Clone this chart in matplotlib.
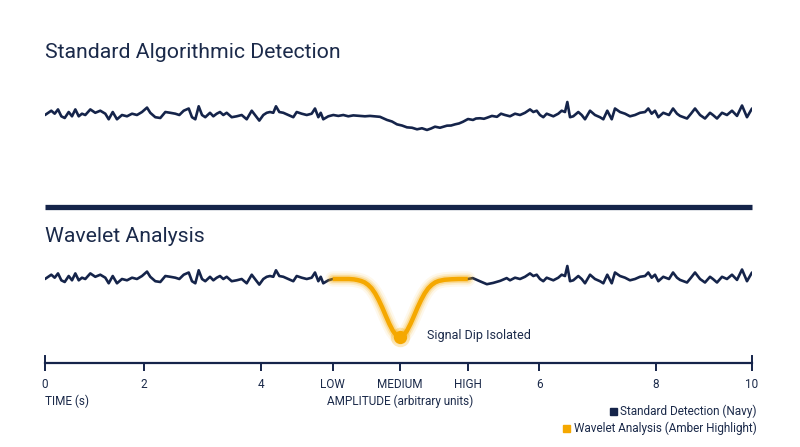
import matplotlib
matplotlib.use("Agg")
import matplotlib.pyplot as plt
from matplotlib.lines import Line2D
from matplotlib.patches import Rectangle

plt.rcParams['font.family'] = ['Roboto', 'DejaVu Sans']

NAVY = '#15244a'
TEXT = '#1b2a4a'
AMBER = '#f5a800'

W, H = 800, 447
PX_PER_UNIT = 1.3

# signal (time in s, amplitude in arbitrary units)
top_t = [0.000, 0.089, 0.137, 0.184, 0.231, 0.279, 0.335, 0.382, 0.429, 0.477,
         0.523, 0.570, 0.641, 0.711, 0.782, 0.853, 0.901, 0.958, 1.018, 1.089,
         1.160, 1.231, 1.301, 1.372, 1.443, 1.489, 1.560, 1.631, 1.702, 1.772,
         1.843, 1.900, 1.962, 2.033, 2.079, 2.126, 2.174, 2.221, 2.267, 2.334,
         2.381, 2.429, 2.475, 2.522, 2.570, 2.641, 2.711, 2.782, 2.853, 2.924,
         2.970, 3.031, 3.088, 3.136, 3.182, 3.229, 3.267, 3.314, 3.371, 3.441,
         3.512, 3.560, 3.631, 3.702, 3.772, 3.819, 3.866, 3.900, 3.936, 4.007,
         4.078, 4.149, 4.219, 4.290, 4.361, 4.455, 4.526, 4.597, 4.738, 4.837,
         4.908, 4.979, 5.050, 5.120, 5.191, 5.262, 5.332, 5.403, 5.460, 5.516,
         5.587, 5.686, 5.743, 5.799, 5.856, 5.912, 5.983, 6.054, 6.096, 6.153,
         6.209, 6.252, 6.322, 6.393, 6.450, 6.506, 6.577, 6.648, 6.719, 6.789,
         6.860, 6.907, 6.955, 7.001, 7.048, 7.096, 7.143, 7.190, 7.260, 7.308,
         7.355, 7.388, 7.426, 7.472, 7.543, 7.591, 7.638, 7.709, 7.779, 7.850,
         7.897, 7.953, 8.016, 8.062, 8.133, 8.204, 8.274, 8.345, 8.416, 8.487,
         8.533, 8.581, 8.628, 8.675, 8.745, 8.826, 8.883, 8.939, 8.982, 9.081,
         9.137, 9.194, 9.265, 9.335, 9.406, 9.448, 9.505, 9.576, 9.646, 9.717,
         9.788, 9.859, 9.929, 10.000]
top_amp = [0.0, 3.3, 1.0, 4.3, -1.0, -2.3, 2.3, -1.0, 4.3, -1.0,
           1.0, 0.0, 4.3, 1.7, 3.3, 1.0, -3.3, 2.3, -3.3, 0.0,
           -1.0, 1.0, 0.0, 2.3, 5.7, 1.7, -1.7, -2.3, 2.3, 1.7,
           1.0, 0.0, 3.3, 5.0, -1.7, -3.3, 6.7, 0.0, -1.7, 1.7,
           -1.0, 1.0, 2.3, 0.0, 1.7, -1.7, -1.0, 0.0, -3.3, 3.3,
           0.0, -4.3, 0.0, 1.7, 2.3, 1.7, 6.7, 2.3, 1.7, 0.0,
           -1.7, 2.3, 1.0, 0.0, 1.0, 5.0, -1.7, 1.7, -3.3, -1.0,
           0.0, -0.7, 0.0, -1.0, -0.3, -0.7, -1.0, -0.7, -1.4, -3.8,
           -5.0, -7.2, -8.1, -9.5, -9.8, -11.0, -10.2, -11.5, -10.4, -9.0,
           -9.8, -8.2, -8.1, -7.2, -6.5, -5.2, -3.1, -3.8, -2.7, -2.5,
           -2.9, -2.1, -0.7, -1.4, 1.0, 0.0, -1.0, 1.0, 0.0, 1.7,
           4.3, 2.3, 3.3, 0.0, -1.7, 1.0, 0.0, -1.0, 1.0, 3.3,
           2.3, 10.0, -1.7, -1.0, 2.3, 0.0, -3.3, 3.3, 0.0, -1.7,
           -3.3, 3.3, -3.3, 5.0, 2.3, 1.0, -1.0, 0.0, 1.7, 2.3,
           5.0, 1.0, 3.3, -1.7, 1.7, 0.0, 5.0, 1.0, -0.7, -2.7,
           1.0, 5.0, 0.0, -2.7, 1.7, 0.0, -2.7, 1.7, 0.0, 3.3,
           -0.7, 7.3, -1.7, 5.0]
assert len(top_t) == len(top_amp)

# bottom panel: noise right after the isolated window
after_t = [5.98, 6.05, 6.15, 6.25, 6.34, 6.44, 6.53]
after_amp = [0.0, 0.7, -1.7, -4.0, -3.0, -1.4, 0.7]

# isolated dip (wavelet window)
amber_t = [4.07, 4.20, 4.30, 4.37, 4.42, 4.47, 4.52, 4.57, 4.62, 4.67,
           4.72, 4.77, 4.82, 4.87, 4.92, 4.97, 5.02, 5.07, 5.12, 5.17,
           5.22, 5.27, 5.32, 5.37, 5.42, 5.47, 5.52, 5.57, 5.65, 5.75,
           5.85, 5.98]
amber_amp = [0.0, 0.0, 0.0, -0.3, -0.8, -1.5, -2.6, -4.5, -7.2, -11.1,
             -16.1, -21.9, -28.3, -34.5, -39.8, -43.4, -44.6, -43.4, -39.8, -34.5,
             -28.3, -21.9, -16.1, -11.1, -7.2, -4.5, -2.6, -1.5, -0.6, -0.2,
             0.0, 0.0]
dip_t, dip_amp = 5.02, -44.6

tick_pos = [0.0, 1.40, 3.05, 4.07, 5.02, 5.98, 6.99, 8.64, 10.0]
tick_labels = ['0', '2', '4', 'LOW', 'MEDIUM', 'HIGH', '6', '8', '10']

legend_labels = ['Standard Detection (Navy)', 'Wavelet Analysis (Amber Highlight)']
legend_colors = [NAVY, AMBER]


def fx(px):
    return px / W


def fy(py):
    return 1 - py / H


def panel(top_px, bot_px, base_px):
    ax = fig.add_axes([fx(45), fy(bot_px), fx(752) - fx(45), (bot_px - top_px) / H])
    ax.set_xlim(0, 10)
    ax.set_ylim((base_px - bot_px) / PX_PER_UNIT, (base_px - top_px) / PX_PER_UNIT)
    ax.axis('off')
    return ax


fig = plt.figure(figsize=(W / 100, H / 100), dpi=100)
fig.patch.set_facecolor('white')

# titles and divider
fig.text(fx(45), fy(53), 'Standard Algorithmic Detection', fontsize=15.3,
         color=TEXT, va='center', ha='left')
fig.text(fx(45), fy(236), 'Wavelet Analysis', fontsize=15.3,
         color=TEXT, va='center', ha='left')
fig.add_artist(Line2D([fx(45), fx(752)], [fy(207), fy(207)], color=NAVY,
                      lw=3.8, solid_capstyle='butt', transform=fig.transFigure))

# top panel
ax1 = panel(85, 145, 115)
ax1.plot(top_t, top_amp, color=NAVY, lw=1.9, solid_joinstyle='round',
         solid_capstyle='round')

# bottom panel
ax2 = panel(249, 349, 279)
left_t = [t for t in top_t if t < 4.07] + [amber_t[0]]
left_amp = [a for t, a in zip(top_t, top_amp) if t < 4.07] + [amber_amp[0]]
right_t = after_t + [t for t in top_t if t > 6.55]
right_amp = after_amp + [a for t, a in zip(top_t, top_amp) if t > 6.55]
ax2.plot(left_t, left_amp, color=NAVY, lw=1.9, solid_joinstyle='round',
         solid_capstyle='round')
ax2.plot(right_t, right_amp, color=NAVY, lw=1.9, solid_joinstyle='round',
         solid_capstyle='round')

for lw, a in [(11, 0.08), (8, 0.14), (5.5, 0.25)]:
    ax2.plot(amber_t, amber_amp, color=AMBER, lw=lw, alpha=a,
             solid_capstyle='round', clip_on=False)
ax2.plot(amber_t, amber_amp, color=AMBER, lw=3.2, solid_capstyle='butt',
         solid_joinstyle='round', clip_on=False)
ax2.plot([dip_t], [dip_amp], 'o', color=AMBER, ms=14, alpha=0.25, mec='none', clip_on=False)
ax2.plot([dip_t], [dip_amp], 'o', color=AMBER, ms=9.5, mec='none', clip_on=False)
ax2.text(5.41, dip_amp + 1.2, 'Signal Dip Isolated', fontsize=9, color=TEXT,
         ha='left', va='center')

# time / amplitude scale
ax3 = fig.add_axes([fx(45), fy(363), fx(752) - fx(45), 7 / H])
ax3.set_xlim(0, 10)
ax3.set_ylim(0, 1)
for s in ['top', 'left', 'right']:
    ax3.spines[s].set_visible(False)
ax3.spines['bottom'].set_color(NAVY)
ax3.spines['bottom'].set_linewidth(1.6)
ax3.patch.set_alpha(0)
ax3.set_yticks([])
ax3.set_xticks(tick_pos, tick_labels)
ax3.tick_params(axis='x', direction='out', length=6, width=1.4, color=NAVY,
                labelsize=8.5, labelcolor=TEXT, pad=5)
ax3.axvline(0, color=NAVY, lw=1.4, clip_on=False)
ax3.axvline(10, color=NAVY, lw=1.4, clip_on=False)

fig.text(fx(45), fy(401), 'TIME (s)', fontsize=8.5, color=TEXT, ha='left', va='center')
fig.text(fx(400), fy(401), 'AMPLITUDE (arbitrary units)', fontsize=8.5, color=TEXT,
         ha='center', va='center')

# legend
for i, (lab, col) in enumerate(zip(legend_labels, legend_colors)):
    y = 411 + i * 17
    t = fig.text(fx(757), fy(y), lab, fontsize=8.5, color=TEXT, ha='right', va='center')
    fig.canvas.draw()
    bb = t.get_window_extent()
    sq = 7
    fig.add_artist(Rectangle((fx(bb.x0 - 4 - sq), fy(y + sq / 2)), sq / W, sq / H,
                             color=col, transform=fig.transFigure))

fig.savefig('out.png', dpi=100)
